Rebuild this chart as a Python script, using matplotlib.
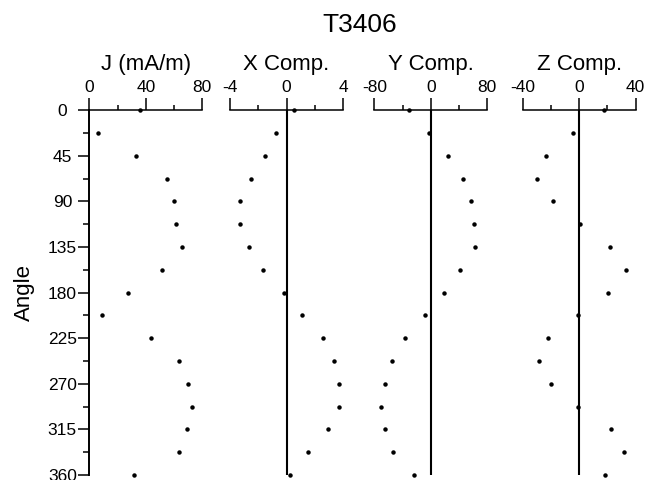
#!/usr/bin/env python3
import numpy as np
import matplotlib
matplotlib.use("Agg")
import matplotlib.pyplot as plt
from matplotlib.ticker import MultipleLocator

plt.rcParams['font.family'] = ['Liberation Sans', 'DejaVu Sans']
plt.rcParams['axes.unicode_minus'] = False

angle = [0, 22.5, 45, 67.5, 90, 112.5, 135, 157.5, 180,
         202.5, 225, 247.5, 270, 292.5, 315, 337.5, 360]

j_vals = [35.9, 6.4, 33.1, 54.8, 60.0, 61.4, 65.9, 51.2, 27.6,
          9.2, 43.7, 63.7, 70.1, 72.9, 69.4, 63.7, 31.6]
x_vals = [0.56, -0.73, -1.51, -2.54, -3.32, -3.29, -2.68, -1.65, -0.21,
          1.10, 2.61, 3.36, 3.71, 3.71, 2.94, 1.51, 0.23]
y_vals = [-30.4, -2.4, 23.7, 46.0, 57.4, 61.2, 63.1, 41.8, 19.0,
          -8.1, -36.1, -55.1, -65.5, -71.2, -64.6, -53.2, -23.7]
z_vals = [17.5, -4.7, -23.8, -30.0, -18.9, 0.9, 21.7, 33.0, 20.5,
          -0.7, -21.9, -28.3, -20.3, -1.2, 22.2, 31.6, 18.6]

panels = [
    ("J (mA/m)", j_vals, 0, 80, 40),
    ("X Comp.", x_vals, -4, 4, 4),
    ("Y Comp.", y_vals, -80, 80, 80),
    ("Z Comp.", z_vals, -40, 40, 40),
]
lefts = [89.3, 230.0, 374.3, 522.7]

W, H = 659, 480
fig = plt.figure(figsize=(W/100, H/100), dpi=100)

top_px, bot_px = 110.3, 475.0
for i, (label, vals, lo, hi, step) in enumerate(panels):
    ax = fig.add_axes([lefts[i]/W, 1 - bot_px/H, 113/W, (bot_px - top_px)/H])
    ax.plot(vals, angle, "o", color="black", ms=2.2, clip_on=False, zorder=5)
    ax.set_xlim(lo, hi)
    ax.set_ylim(360, 0)

    ax.xaxis.set_ticks_position("top")
    ax.xaxis.set_major_locator(MultipleLocator(step))
    ax.xaxis.set_minor_locator(MultipleLocator(step/2))
    ax.tick_params(axis="x", which="major", direction="out", length=8.5,
                   width=1.1, pad=2.5, labelsize=12.5)
    ax.tick_params(axis="x", which="minor", direction="out", length=3.6, width=1.1)

    for side in ["bottom", "right"]:
        ax.spines[side].set_visible(False)
    ax.spines["top"].set_linewidth(1.1)

    if i == 0:
        ax.spines["left"].set_linewidth(1.4)
        ax.yaxis.set_major_locator(MultipleLocator(45))
        ax.yaxis.set_minor_locator(MultipleLocator(22.5))
        ax.tick_params(axis="y", which="major", direction="out", length=8,
                       width=1.1, pad=11.4, labelsize=12.5)
        ax.tick_params(axis="y", which="minor", direction="out", length=4.3, width=1.1)
        for t in ax.get_yticklabels():
            t.set_horizontalalignment("center")
    else:
        ax.spines["left"].set_visible(False)
        ax.set_yticks([])
        ax.axvline(0, color="black", lw=1.5, zorder=3)

    ax.patch.set_visible(False)
    cx = (lefts[i] + 56.5) / W
    fig.text(cx, 1 - 70/H, label, ha="center", va="baseline", fontsize=16)

fig.text(360/W, 1 - 32/H, "T3406", ha="center", va="baseline", fontsize=19)
fig.text(24/W, 1 - 292.5/H, "Angle", ha="center", va="center",
         rotation=90, fontsize=16)

fig.savefig("out.png", dpi=100)
